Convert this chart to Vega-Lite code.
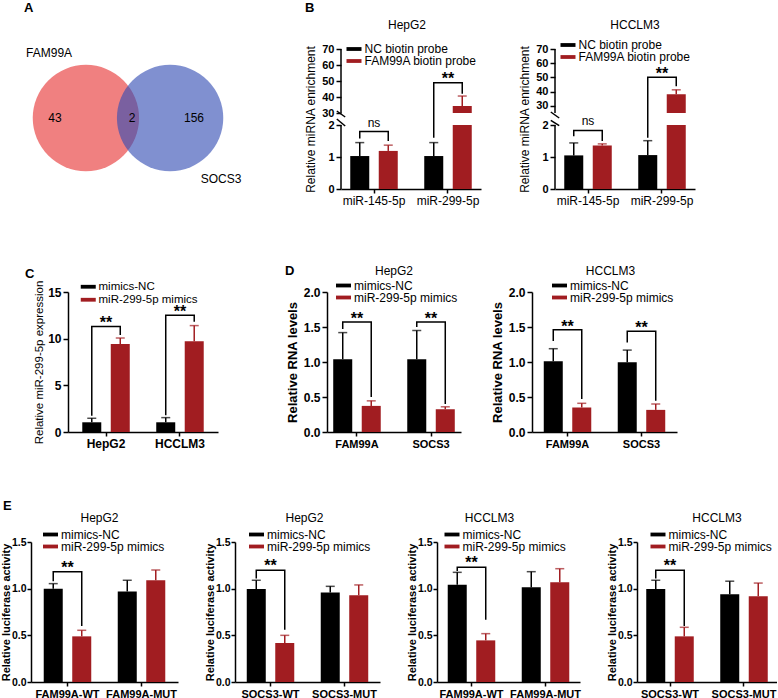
{
"$schema": "https://vega.github.io/schema/vega-lite/v6.json",
"padding": {"top": 2, "left": 0, "right": 0, "bottom": 0},
"background": "white",
"config": {
 "font": "Liberation Sans",
 "view": {"stroke": null},
 "axis": {"domainColor": "#000", "domainWidth": 1.5, "tickColor": "#000", "tickWidth": 1.5, "tickSize": 5, "labelColor": "#000", "titleColor": "#000", "grid": false, "labelFontSize": 12, "titleFontSize": 12, "labelPadding": 2, "titlePadding": 4},
 "axisX": {"labelAngle": 0, "tickSize": 4, "labelFontWeight": "bold"},
 "axisY": {"labelFontWeight": "bold", "titleFontWeight": "bold", "labelOverlap": false},
 "legend": {"orient": "none", "symbolType": "M-1.5,-0.38H1.5V0.38H-1.5Z", "symbolSize": 100, "symbolStrokeWidth": 0, "labelFontSize": 12, "labelOffset": 4.5, "rowPadding": 0, "padding": 0, "labelColor": "#000"},
 "title": {"fontSize": 12, "fontWeight": "normal", "frame": "group", "color": "#000"},
 "text": {"color": "#000"}
},
"spacing": 51,
"resolve": {"scale": {"color": "independent", "xOffset": "independent"}, "legend": {"color": "independent"}},
"vconcat": [
{
 "spacing": 0, "bounds": "flush",
 "resolve": {"scale": {"color": "independent", "xOffset": "independent"}, "legend": {"color": "independent"}},
 "hconcat": [
  {"width": 1, "height": 140, "data": {"values": []}, "mark": "point", "title": {"text": "A", "anchor": "start", "dx": 24, "offset": 34, "fontSize": 13, "fontWeight": "bold"}},
  {"width": 244, "height": 140,
   "layer": [
    {"data": {"values": [{"set": "FAM99A", "cx": 3.48, "cy": 5.07}]}, "mark": {"type": "point", "filled": true, "size": 11310, "opacity": 1, "color": "#F08080"},
     "encoding": {"x": {"field": "cx", "type": "quantitative", "scale": {"domain": [0, 10]}, "axis": null}, "y": {"field": "cy", "type": "quantitative", "scale": {"domain": [0, 10]}, "axis": null}}},
    {"data": {"values": [{"set": "SOCS3", "cx": 6.93, "cy": 5.07}]}, "mark": {"type": "point", "filled": true, "size": 11310, "opacity": 0.62, "color": "#324CB3"},
     "encoding": {"x": {"field": "cx", "type": "quantitative"}, "y": {"field": "cy", "type": "quantitative"}}},
    {"data": {"values": [{"t": "43", "cx": 2.21, "cy": 5.07}, {"t": "2", "cx": 5.37, "cy": 5.07}, {"t": "156", "cx": 7.91, "cy": 5.07}, {"t": "FAM99A", "cx": 1.97, "cy": 9.74}, {"t": "SOCS3", "cx": 9.02, "cy": 0.69}]},
     "mark": {"type": "text", "fontSize": 12},
     "encoding": {"x": {"field": "cx", "type": "quantitative"}, "y": {"field": "cy", "type": "quantitative"}, "text": {"field": "t"}}}
   ]},
  {"width": 96, "height": 164, "data": {"values": []}, "mark": "point", "title": {"text": "B", "anchor": "start", "dx": 60, "offset": 34, "fontSize": 13, "fontWeight": "bold"}},
  {"width": 140, "height": 140,
   "title": {"text": "HepG2", "offset": 11, "dx": -4},
   "data": {"values": [
    {"k": "bar", "g": "miR-145-5p", "s": "NC biotin probe", "y": 1.03, "y2": 0},
    {"k": "bar", "g": "miR-145-5p", "s": "FAM99A biotin probe", "y": 1.19, "y2": 0},
    {"k": "bar", "g": "miR-299-5p", "s": "NC biotin probe", "y": 1.03, "y2": 0},
    {"k": "bar", "g": "miR-299-5p", "s": "FAM99A biotin probe", "y": 2, "y2": 0},
    {"k": "bar", "g": "miR-299-5p", "s": "FAM99A biotin probe", "y": 34.4, "y2": 30},
    {"k": "err", "g": "miR-145-5p", "s": "NC biotin probe", "y": 1.45, "y2": 1.03},
    {"k": "err", "g": "miR-145-5p", "s": "FAM99A biotin probe", "y": 1.37, "y2": 1.19},
    {"k": "err", "g": "miR-299-5p", "s": "NC biotin probe", "y": 1.45, "y2": 1.03},
    {"k": "err", "g": "miR-299-5p", "s": "FAM99A biotin probe", "y": 40.6, "y2": 34.4},
    {"k": "br", "id": 1, "o": 1, "g": "miR-145-5p", "s": "NC biotin probe", "y": 1.58},
    {"k": "br", "id": 1, "o": 2, "g": "miR-145-5p", "s": "NC biotin probe", "y": 1.8},
    {"k": "br", "id": 1, "o": 3, "g": "miR-145-5p", "s": "FAM99A biotin probe", "y": 1.8},
    {"k": "br", "id": 1, "o": 4, "g": "miR-145-5p", "s": "FAM99A biotin probe", "y": 1.5},
    {"k": "br", "id": 2, "o": 1, "g": "miR-299-5p", "s": "NC biotin probe", "y": 1.6},
    {"k": "br", "id": 2, "o": 2, "g": "miR-299-5p", "s": "NC biotin probe", "y": 48.9},
    {"k": "br", "id": 2, "o": 3, "g": "miR-299-5p", "s": "FAM99A biotin probe", "y": 48.9},
    {"k": "br", "id": 2, "o": 4, "g": "miR-299-5p", "s": "FAM99A biotin probe", "y": 42},
    {"k": "txt", "g": "miR-145-5p", "y": 1.94, "t": "ns"},
    {"k": "txt", "g": "miR-299-5p", "y": 48.1, "t": "**"},
    {"k": "ax", "y": 2, "y2": 0},
    {"k": "ax", "y": 70, "y2": 30},
    {"k": "sl", "id": "a", "bx": -0.03, "y": 31.25},
    {"k": "sl", "id": "a", "bx": 0.03, "y": 20.67},
    {"k": "sl", "id": "b", "bx": -0.03, "y": 16},
    {"k": "sl", "id": "b", "bx": 0.03, "y": 1.97}
   ]},
   "resolve": {"scale": {"x": "independent"}},
   "layer": [
    {"encoding": {"x": {"field": "g", "type": "nominal", "sort": ["miR-145-5p", "miR-299-5p"], "scale": {"paddingInner": 0.358, "paddingOuter": 0.125}, "axis": {"title": null, "labelFontWeight": "normal"}}},
     "layer": [
      {"transform": [{"filter": "datum.k==='bar'"}], "mark": {"type": "bar"},
       "encoding": {"xOffset": {"field": "s", "type": "nominal", "sort": ["NC biotin probe", "FAM99A biotin probe"], "scale": {"paddingInner": 0.333, "paddingOuter": 0}},
        "y": {"field": "y", "type": "quantitative", "scale": {"domain": [0, 2, 30, 70], "range": [140, 76, 64, 0], "nice": false, "zero": false}, "axis": {"values": [0, 1, 2, 30, 40, 50, 60, 70], "tickCount": 20, "domain": false, "labelFontSize": 11, "title": "Relative miRNA enrichment", "titleFontWeight": "normal"}},
        "y2": {"field": "y2"},
        "color": {"field": "s", "type": "nominal", "scale": {"domain": ["NC biotin probe", "FAM99A biotin probe"], "range": ["#000000", "#A11D21"]}, "legend": {"legendX": 7, "legendY": -6, "title": null}}}},
      {"transform": [{"filter": "datum.k==='err'"}], "mark": {"type": "rule", "strokeWidth": 1.5},
       "encoding": {"xOffset": {"field": "s", "type": "nominal", "sort": ["NC biotin probe", "FAM99A biotin probe"]}, "y": {"field": "y", "type": "quantitative"}, "y2": {"field": "y2"}, "color": {"field": "s", "type": "nominal", "legend": null}}},
      {"transform": [{"filter": "datum.k==='err'"}], "mark": {"type": "tick", "size": 9, "thickness": 1.5},
       "encoding": {"xOffset": {"field": "s", "type": "nominal", "sort": ["NC biotin probe", "FAM99A biotin probe"]}, "y": {"field": "y", "type": "quantitative"}, "color": {"field": "s", "type": "nominal", "legend": null}}},
      {"transform": [{"filter": "datum.k==='br'"}], "mark": {"type": "line", "color": "#000", "strokeWidth": 1.5},
       "encoding": {"xOffset": {"field": "s", "type": "nominal", "sort": ["NC biotin probe", "FAM99A biotin probe"]}, "y": {"field": "y", "type": "quantitative"}, "detail": {"field": "id"}, "order": {"field": "o"}}},
      {"transform": [{"filter": "datum.k==='txt' && datum.t==='**'"}], "mark": {"type": "text", "fontSize": 16, "fontWeight": "bold", "baseline": "alphabetic"},
       "encoding": {"y": {"field": "y", "type": "quantitative"}, "text": {"field": "t"}}},
      {"transform": [{"filter": "datum.k==='txt' && datum.t==='ns'"}], "mark": {"type": "text", "fontSize": 12, "baseline": "alphabetic"},
       "encoding": {"y": {"field": "y", "type": "quantitative"}, "text": {"field": "t"}}}
     ]},
    {"layer": [
      {"transform": [{"filter": "datum.k==='ax'"}], "mark": {"type": "rule", "color": "#000", "strokeWidth": 1.5},
       "encoding": {"x": {"datum": 0, "type": "quantitative", "scale": {"domain": [0, 1]}, "axis": null}, "y": {"field": "y", "type": "quantitative"}, "y2": {"field": "y2"}}},
      {"transform": [{"filter": "datum.k==='sl'"}], "mark": {"type": "line", "color": "#000", "strokeWidth": 1.5},
       "encoding": {"x": {"field": "bx", "type": "quantitative", "scale": {"domain": [0, 1]}, "axis": null}, "y": {"field": "y", "type": "quantitative"}, "detail": {"field": "id"}}}
    ]}
   ]},
  {"width": 74, "height": 140, "data": {"values": []}, "mark": "point"},
  {"width": 140, "height": 140,
   "title": {"text": "HCCLM3", "offset": 7, "dx": 10},
   "data": {"values": [
    {"k": "bar", "g": "miR-145-5p", "s": "NC biotin probe", "y": 1.05, "y2": 0},
    {"k": "bar", "g": "miR-145-5p", "s": "FAM99A biotin probe", "y": 1.36, "y2": 0},
    {"k": "bar", "g": "miR-299-5p", "s": "NC biotin probe", "y": 1.06, "y2": 0},
    {"k": "bar", "g": "miR-299-5p", "s": "FAM99A biotin probe", "y": 2, "y2": 0},
    {"k": "bar", "g": "miR-299-5p", "s": "FAM99A biotin probe", "y": 38.2, "y2": 25},
    {"k": "err", "g": "miR-145-5p", "s": "NC biotin probe", "y": 1.44, "y2": 1.05},
    {"k": "err", "g": "miR-145-5p", "s": "FAM99A biotin probe", "y": 1.41, "y2": 1.36},
    {"k": "err", "g": "miR-299-5p", "s": "NC biotin probe", "y": 1.51, "y2": 1.06},
    {"k": "err", "g": "miR-299-5p", "s": "FAM99A biotin probe", "y": 41.3, "y2": 38.2},
    {"k": "br", "id": 1, "o": 1, "g": "miR-145-5p", "s": "NC biotin probe", "y": 1.65},
    {"k": "br", "id": 1, "o": 2, "g": "miR-145-5p", "s": "NC biotin probe", "y": 1.83},
    {"k": "br", "id": 1, "o": 3, "g": "miR-145-5p", "s": "FAM99A biotin probe", "y": 1.83},
    {"k": "br", "id": 1, "o": 4, "g": "miR-145-5p", "s": "FAM99A biotin probe", "y": 1.5},
    {"k": "br", "id": 2, "o": 1, "g": "miR-299-5p", "s": "NC biotin probe", "y": 1.6},
    {"k": "br", "id": 2, "o": 2, "g": "miR-299-5p", "s": "NC biotin probe", "y": 50.1},
    {"k": "br", "id": 2, "o": 3, "g": "miR-299-5p", "s": "FAM99A biotin probe", "y": 50.1},
    {"k": "br", "id": 2, "o": 4, "g": "miR-299-5p", "s": "FAM99A biotin probe", "y": 43.8},
    {"k": "txt", "g": "miR-145-5p", "y": 1.99, "t": "ns"},
    {"k": "txt", "g": "miR-299-5p", "y": 48.7, "t": "**"},
    {"k": "ax", "y": 2, "y2": 0},
    {"k": "ax", "y": 70, "y2": 25},
    {"k": "sl", "id": "a", "bx": -0.03, "y": 25.7},
    {"k": "sl", "id": "a", "bx": 0.03, "y": 15.4},
    {"k": "sl", "id": "b", "bx": -0.03, "y": 11},
    {"k": "sl", "id": "b", "bx": 0.03, "y": 1.98}
   ]},
   "resolve": {"scale": {"x": "independent"}},
   "layer": [
    {"encoding": {"x": {"field": "g", "type": "nominal", "sort": ["miR-145-5p", "miR-299-5p"], "scale": {"paddingInner": 0.358, "paddingOuter": 0.125}, "axis": {"title": null, "labelFontWeight": "normal"}}},
     "layer": [
      {"transform": [{"filter": "datum.k==='bar'"}], "mark": {"type": "bar"},
       "encoding": {"xOffset": {"field": "s", "type": "nominal", "sort": ["NC biotin probe", "FAM99A biotin probe"], "scale": {"paddingInner": 0.333, "paddingOuter": 0}},
        "y": {"field": "y", "type": "quantitative", "scale": {"domain": [0, 2, 25, 70], "range": [140, 76, 64, 0], "nice": false, "zero": false}, "axis": {"values": [0, 1, 2, 30, 40, 50, 60, 70], "tickCount": 20, "domain": false, "labelFontSize": 11, "title": "Relative miRNA enrichment", "titleFontWeight": "normal"}},
        "y2": {"field": "y2"},
        "color": {"field": "s", "type": "nominal", "scale": {"domain": ["NC biotin probe", "FAM99A biotin probe"], "range": ["#000000", "#A11D21"]}, "legend": {"legendX": 7, "legendY": -10, "title": null}}}},
      {"transform": [{"filter": "datum.k==='err'"}], "mark": {"type": "rule", "strokeWidth": 1.5},
       "encoding": {"xOffset": {"field": "s", "type": "nominal", "sort": ["NC biotin probe", "FAM99A biotin probe"]}, "y": {"field": "y", "type": "quantitative"}, "y2": {"field": "y2"}, "color": {"field": "s", "type": "nominal", "legend": null}}},
      {"transform": [{"filter": "datum.k==='err'"}], "mark": {"type": "tick", "size": 9, "thickness": 1.5},
       "encoding": {"xOffset": {"field": "s", "type": "nominal", "sort": ["NC biotin probe", "FAM99A biotin probe"]}, "y": {"field": "y", "type": "quantitative"}, "color": {"field": "s", "type": "nominal", "legend": null}}},
      {"transform": [{"filter": "datum.k==='br'"}], "mark": {"type": "line", "color": "#000", "strokeWidth": 1.5},
       "encoding": {"xOffset": {"field": "s", "type": "nominal", "sort": ["NC biotin probe", "FAM99A biotin probe"]}, "y": {"field": "y", "type": "quantitative"}, "detail": {"field": "id"}, "order": {"field": "o"}}},
      {"transform": [{"filter": "datum.k==='txt' && datum.t==='**'"}], "mark": {"type": "text", "fontSize": 16, "fontWeight": "bold", "baseline": "alphabetic"},
       "encoding": {"y": {"field": "y", "type": "quantitative"}, "text": {"field": "t"}}},
      {"transform": [{"filter": "datum.k==='txt' && datum.t==='ns'"}], "mark": {"type": "text", "fontSize": 12, "baseline": "alphabetic"},
       "encoding": {"y": {"field": "y", "type": "quantitative"}, "text": {"field": "t"}}}
     ]},
    {"layer": [
      {"transform": [{"filter": "datum.k==='ax'"}], "mark": {"type": "rule", "color": "#000", "strokeWidth": 1.5},
       "encoding": {"x": {"datum": 0, "type": "quantitative", "scale": {"domain": [0, 1]}, "axis": null}, "y": {"field": "y", "type": "quantitative"}, "y2": {"field": "y2"}}},
      {"transform": [{"filter": "datum.k==='sl'"}], "mark": {"type": "line", "color": "#000", "strokeWidth": 1.5},
       "encoding": {"x": {"field": "bx", "type": "quantitative", "scale": {"domain": [0, 1]}, "axis": null}, "y": {"field": "y", "type": "quantitative"}, "detail": {"field": "id"}}}
    ]}
   ]}
 ]
},
{
 "spacing": 0, "bounds": "flush",
 "resolve": {"scale": {"color": "independent", "xOffset": "independent"}, "legend": {"color": "independent"}},
 "hconcat": [
  {"width": 68, "height": 140, "data": {"values": []}, "mark": "point", "title": {"text": "C", "anchor": "start", "dx": 25, "offset": 11, "fontSize": 13, "fontWeight": "bold"}},
  {"width": 150, "height": 140,
   "data": {"values": [
    {"k": "bar", "g": "HepG2", "s": "mimics-NC", "y": 1.04, "y2": 0},
    {"k": "bar", "g": "HepG2", "s": "miR-299-5p mimics", "y": 9.43, "y2": 0},
    {"k": "bar", "g": "HCCLM3", "s": "mimics-NC", "y": 1.04, "y2": 0},
    {"k": "bar", "g": "HCCLM3", "s": "miR-299-5p mimics", "y": 9.72, "y2": 0},
    {"k": "err", "g": "HepG2", "s": "mimics-NC", "y": 1.47, "y2": 1.04},
    {"k": "err", "g": "HepG2", "s": "miR-299-5p mimics", "y": 10.07, "y2": 9.43},
    {"k": "err", "g": "HCCLM3", "s": "mimics-NC", "y": 1.54, "y2": 1.04},
    {"k": "err", "g": "HCCLM3", "s": "miR-299-5p mimics", "y": 11.4, "y2": 9.72},
    {"k": "br", "id": 1, "o": 1, "g": "HepG2", "s": "mimics-NC", "y": 1.75},
    {"k": "br", "id": 1, "o": 2, "g": "HepG2", "s": "mimics-NC", "y": 11.3},
    {"k": "br", "id": 1, "o": 3, "g": "HepG2", "s": "miR-299-5p mimics", "y": 11.3},
    {"k": "br", "id": 1, "o": 4, "g": "HepG2", "s": "miR-299-5p mimics", "y": 10.4},
    {"k": "br", "id": 2, "o": 1, "g": "HCCLM3", "s": "mimics-NC", "y": 1.8},
    {"k": "br", "id": 2, "o": 2, "g": "HCCLM3", "s": "mimics-NC", "y": 12.5},
    {"k": "br", "id": 2, "o": 3, "g": "HCCLM3", "s": "miR-299-5p mimics", "y": 12.5},
    {"k": "br", "id": 2, "o": 4, "g": "HCCLM3", "s": "miR-299-5p mimics", "y": 11.8},
    {"k": "txt", "g": "HepG2", "y": 11.15, "t": "**"},
    {"k": "txt", "g": "HCCLM3", "y": 12.3, "t": "**"}
   ]},
   "encoding": {"x": {"field": "g", "type": "nominal", "sort": ["HepG2", "HCCLM3"], "scale": {"paddingInner": 0.358, "paddingOuter": 0.193}, "axis": {"title": null}}},
   "layer": [
    {"transform": [{"filter": "datum.k==='bar'"}], "mark": {"type": "bar"},
     "encoding": {"xOffset": {"field": "s", "type": "nominal", "sort": ["mimics-NC", "miR-299-5p mimics"], "scale": {"paddingInner": 0.333, "paddingOuter": 0}},
      "y": {"field": "y", "type": "quantitative", "scale": {"domain": [0, 15], "nice": false}, "axis": {"values": [0, 5, 10, 15], "tickCount": 20, "title": "Relative miR-299-5p expression", "titleFontWeight": "normal", "titleFontSize": 11.5, "titlePadding": 3}},
      "y2": {"field": "y2"},
      "color": {"field": "s", "type": "nominal", "scale": {"domain": ["mimics-NC", "miR-299-5p mimics"], "range": ["#000000", "#A11D21"]}, "legend": {"legendX": 14.5, "legendY": -11, "title": null, "labelFontSize": 11.5}}}},
    {"transform": [{"filter": "datum.k==='err'"}], "mark": {"type": "rule", "strokeWidth": 1.5},
     "encoding": {"xOffset": {"field": "s", "type": "nominal", "sort": ["mimics-NC", "miR-299-5p mimics"]}, "y": {"field": "y", "type": "quantitative"}, "y2": {"field": "y2"}, "color": {"field": "s", "type": "nominal", "legend": null}}},
    {"transform": [{"filter": "datum.k==='err'"}], "mark": {"type": "tick", "size": 9, "thickness": 1.5},
     "encoding": {"xOffset": {"field": "s", "type": "nominal", "sort": ["mimics-NC", "miR-299-5p mimics"]}, "y": {"field": "y", "type": "quantitative"}, "color": {"field": "s", "type": "nominal", "legend": null}}},
    {"transform": [{"filter": "datum.k==='br'"}], "mark": {"type": "line", "color": "#000", "strokeWidth": 1.5},
     "encoding": {"xOffset": {"field": "s", "type": "nominal", "sort": ["mimics-NC", "miR-299-5p mimics"]}, "y": {"field": "y", "type": "quantitative"}, "detail": {"field": "id"}, "order": {"field": "o"}}},
    {"transform": [{"filter": "datum.k==='txt'"}], "mark": {"type": "text", "fontSize": 16, "fontWeight": "bold", "baseline": "alphabetic"},
     "encoding": {"y": {"field": "y", "type": "quantitative"}, "text": {"field": "t"}}}
   ]},
  {"width": 108.7, "height": 140, "data": {"values": []}, "mark": "point", "title": {"text": "D", "anchor": "start", "dx": 67, "offset": 14, "fontSize": 13, "fontWeight": "bold"}},
  {"width": 134, "height": 140,
   "title": {"text": "HepG2", "offset": 2},
   "data": {"values": [
    {"k": "bar", "g": "FAM99A", "s": "mimics-NC", "y": 1.04, "y2": 0},
    {"k": "bar", "g": "FAM99A", "s": "miR-299-5p mimics", "y": 0.373, "y2": 0},
    {"k": "bar", "g": "SOCS3", "s": "mimics-NC", "y": 1.04, "y2": 0},
    {"k": "bar", "g": "SOCS3", "s": "miR-299-5p mimics", "y": 0.325, "y2": 0},
    {"k": "err", "g": "FAM99A", "s": "mimics-NC", "y": 1.42, "y2": 1.04},
    {"k": "err", "g": "FAM99A", "s": "miR-299-5p mimics", "y": 0.445, "y2": 0.373},
    {"k": "err", "g": "SOCS3", "s": "mimics-NC", "y": 1.45, "y2": 1.04},
    {"k": "err", "g": "SOCS3", "s": "miR-299-5p mimics", "y": 0.36, "y2": 0.325},
    {"k": "br", "id": 1, "o": 1, "g": "FAM99A", "s": "mimics-NC", "y": 1.47},
    {"k": "br", "id": 1, "o": 2, "g": "FAM99A", "s": "mimics-NC", "y": 1.57},
    {"k": "br", "id": 1, "o": 3, "g": "FAM99A", "s": "miR-299-5p mimics", "y": 1.57},
    {"k": "br", "id": 1, "o": 4, "g": "FAM99A", "s": "miR-299-5p mimics", "y": 0.5},
    {"k": "br", "id": 2, "o": 1, "g": "SOCS3", "s": "mimics-NC", "y": 1.5},
    {"k": "br", "id": 2, "o": 2, "g": "SOCS3", "s": "mimics-NC", "y": 1.57},
    {"k": "br", "id": 2, "o": 3, "g": "SOCS3", "s": "miR-299-5p mimics", "y": 1.57},
    {"k": "br", "id": 2, "o": 4, "g": "SOCS3", "s": "miR-299-5p mimics", "y": 0.4},
    {"k": "txt", "g": "FAM99A", "y": 1.54, "t": "**"},
    {"k": "txt", "g": "SOCS3", "y": 1.54, "t": "**"}
   ]},
   "encoding": {"x": {"field": "g", "type": "nominal", "sort": ["FAM99A", "SOCS3"], "scale": {"paddingInner": 0.358, "paddingOuter": 0.084}, "axis": {"title": null, "labelFontSize": 11}}},
   "layer": [
    {"transform": [{"filter": "datum.k==='bar'"}], "mark": {"type": "bar"},
     "encoding": {"xOffset": {"field": "s", "type": "nominal", "sort": ["mimics-NC", "miR-299-5p mimics"], "scale": {"paddingInner": 0.333, "paddingOuter": 0}},
      "y": {"field": "y", "type": "quantitative", "scale": {"domain": [0, 2], "nice": false}, "axis": {"values": [0, 0.5, 1, 1.5, 2], "tickCount": 20, "format": ".1f", "title": "Relative RNA levels", "titleFontSize": 13}},
      "y2": {"field": "y2"},
      "color": {"field": "s", "type": "nominal", "scale": {"domain": ["mimics-NC", "miR-299-5p mimics"], "range": ["#000000", "#A11D21"]}, "legend": {"legendX": 10.5, "legendY": -12.5, "title": null}}}},
    {"transform": [{"filter": "datum.k==='err'"}], "mark": {"type": "rule", "strokeWidth": 1.5},
     "encoding": {"xOffset": {"field": "s", "type": "nominal", "sort": ["mimics-NC", "miR-299-5p mimics"]}, "y": {"field": "y", "type": "quantitative"}, "y2": {"field": "y2"}, "color": {"field": "s", "type": "nominal", "legend": null}}},
    {"transform": [{"filter": "datum.k==='err'"}], "mark": {"type": "tick", "size": 9, "thickness": 1.5},
     "encoding": {"xOffset": {"field": "s", "type": "nominal", "sort": ["mimics-NC", "miR-299-5p mimics"]}, "y": {"field": "y", "type": "quantitative"}, "color": {"field": "s", "type": "nominal", "legend": null}}},
    {"transform": [{"filter": "datum.k==='br'"}], "mark": {"type": "line", "color": "#000", "strokeWidth": 1.5},
     "encoding": {"xOffset": {"field": "s", "type": "nominal", "sort": ["mimics-NC", "miR-299-5p mimics"]}, "y": {"field": "y", "type": "quantitative"}, "detail": {"field": "id"}, "order": {"field": "o"}}},
    {"transform": [{"filter": "datum.k==='txt'"}], "mark": {"type": "text", "fontSize": 16, "fontWeight": "bold", "baseline": "alphabetic"},
     "encoding": {"y": {"field": "y", "type": "quantitative"}, "text": {"field": "t"}}}
   ]},
  {"width": 71, "height": 140, "data": {"values": []}, "mark": "point"},
  {"width": 145, "height": 140,
   "title": {"text": "HCCLM3", "offset": 2, "dx": 6},
   "data": {"values": [
    {"k": "bar", "g": "FAM99A", "s": "mimics-NC", "y": 1.01, "y2": 0},
    {"k": "bar", "g": "FAM99A", "s": "miR-299-5p mimics", "y": 0.35, "y2": 0},
    {"k": "bar", "g": "SOCS3", "s": "mimics-NC", "y": 0.995, "y2": 0},
    {"k": "bar", "g": "SOCS3", "s": "miR-299-5p mimics", "y": 0.316, "y2": 0},
    {"k": "err", "g": "FAM99A", "s": "mimics-NC", "y": 1.19, "y2": 1.01},
    {"k": "err", "g": "FAM99A", "s": "miR-299-5p mimics", "y": 0.41, "y2": 0.35},
    {"k": "err", "g": "SOCS3", "s": "mimics-NC", "y": 1.17, "y2": 0.995},
    {"k": "err", "g": "SOCS3", "s": "miR-299-5p mimics", "y": 0.4, "y2": 0.316},
    {"k": "br", "id": 1, "o": 1, "g": "FAM99A", "s": "mimics-NC", "y": 1.3},
    {"k": "br", "id": 1, "o": 2, "g": "FAM99A", "s": "mimics-NC", "y": 1.46},
    {"k": "br", "id": 1, "o": 3, "g": "FAM99A", "s": "miR-299-5p mimics", "y": 1.46},
    {"k": "br", "id": 1, "o": 4, "g": "FAM99A", "s": "miR-299-5p mimics", "y": 0.47},
    {"k": "br", "id": 2, "o": 1, "g": "SOCS3", "s": "mimics-NC", "y": 1.28},
    {"k": "br", "id": 2, "o": 2, "g": "SOCS3", "s": "mimics-NC", "y": 1.44},
    {"k": "br", "id": 2, "o": 3, "g": "SOCS3", "s": "miR-299-5p mimics", "y": 1.44},
    {"k": "br", "id": 2, "o": 4, "g": "SOCS3", "s": "miR-299-5p mimics", "y": 0.445},
    {"k": "txt", "g": "FAM99A", "y": 1.43, "t": "**"},
    {"k": "txt", "g": "SOCS3", "y": 1.41, "t": "**"}
   ]},
   "encoding": {"x": {"field": "g", "type": "nominal", "sort": ["FAM99A", "SOCS3"], "scale": {"paddingInner": 0.358, "paddingOuter": 0.159}, "axis": {"title": null, "labelFontSize": 11}}},
   "layer": [
    {"transform": [{"filter": "datum.k==='bar'"}], "mark": {"type": "bar"},
     "encoding": {"xOffset": {"field": "s", "type": "nominal", "sort": ["mimics-NC", "miR-299-5p mimics"], "scale": {"paddingInner": 0.333, "paddingOuter": 0}},
      "y": {"field": "y", "type": "quantitative", "scale": {"domain": [0, 2], "nice": false}, "axis": {"values": [0, 0.5, 1, 1.5, 2], "tickCount": 20, "format": ".1f", "title": "Relative RNA levels", "titleFontSize": 13}},
      "y2": {"field": "y2"},
      "color": {"field": "s", "type": "nominal", "scale": {"domain": ["mimics-NC", "miR-299-5p mimics"], "range": ["#000000", "#A11D21"]}, "legend": {"legendX": 21.5, "legendY": -12.5, "title": null}}}},
    {"transform": [{"filter": "datum.k==='err'"}], "mark": {"type": "rule", "strokeWidth": 1.5},
     "encoding": {"xOffset": {"field": "s", "type": "nominal", "sort": ["mimics-NC", "miR-299-5p mimics"]}, "y": {"field": "y", "type": "quantitative"}, "y2": {"field": "y2"}, "color": {"field": "s", "type": "nominal", "legend": null}}},
    {"transform": [{"filter": "datum.k==='err'"}], "mark": {"type": "tick", "size": 9, "thickness": 1.5},
     "encoding": {"xOffset": {"field": "s", "type": "nominal", "sort": ["mimics-NC", "miR-299-5p mimics"]}, "y": {"field": "y", "type": "quantitative"}, "color": {"field": "s", "type": "nominal", "legend": null}}},
    {"transform": [{"filter": "datum.k==='br'"}], "mark": {"type": "line", "color": "#000", "strokeWidth": 1.5},
     "encoding": {"xOffset": {"field": "s", "type": "nominal", "sort": ["mimics-NC", "miR-299-5p mimics"]}, "y": {"field": "y", "type": "quantitative"}, "detail": {"field": "id"}, "order": {"field": "o"}}},
    {"transform": [{"filter": "datum.k==='txt'"}], "mark": {"type": "text", "fontSize": 16, "fontWeight": "bold", "baseline": "alphabetic"},
     "encoding": {"y": {"field": "y", "type": "quantitative"}, "text": {"field": "t"}}}
   ]}
 ]
},
{
 "spacing": 0, "bounds": "flush",
 "resolve": {"scale": {"color": "independent", "xOffset": "independent"}, "legend": {"color": "independent"}},
 "hconcat": [
  {"width": 31, "height": 140, "data": {"values": []}, "mark": "point", "title": {"text": "E", "anchor": "start", "dx": 3, "offset": 29, "fontSize": 13, "fontWeight": "bold"}},
  {"width": 147, "height": 140,
   "title": {"text": "HepG2", "offset": 4, "dx": -5},
   "data": {"values": [
    {"k": "bar", "g": "FAM99A-WT", "s": "mimics-NC", "y": 1.0, "y2": 0},
    {"k": "bar", "g": "FAM99A-WT", "s": "miR-299-5p mimics", "y": 0.489, "y2": 0},
    {"k": "bar", "g": "FAM99A-MUT", "s": "mimics-NC", "y": 0.97, "y2": 0},
    {"k": "bar", "g": "FAM99A-MUT", "s": "miR-299-5p mimics", "y": 1.09, "y2": 0},
    {"k": "err", "g": "FAM99A-WT", "s": "mimics-NC", "y": 1.054, "y2": 1.0},
    {"k": "err", "g": "FAM99A-WT", "s": "miR-299-5p mimics", "y": 0.554, "y2": 0.489},
    {"k": "err", "g": "FAM99A-MUT", "s": "mimics-NC", "y": 1.09, "y2": 0.97},
    {"k": "err", "g": "FAM99A-MUT", "s": "miR-299-5p mimics", "y": 1.2, "y2": 1.09},
    {"k": "br", "id": 1, "o": 1, "g": "FAM99A-WT", "s": "mimics-NC", "y": 1.08},
    {"k": "br", "id": 1, "o": 2, "g": "FAM99A-WT", "s": "mimics-NC", "y": 1.18},
    {"k": "br", "id": 1, "o": 3, "g": "FAM99A-WT", "s": "miR-299-5p mimics", "y": 1.18},
    {"k": "br", "id": 1, "o": 4, "g": "FAM99A-WT", "s": "miR-299-5p mimics", "y": 0.6},
    {"k": "txt", "g": "FAM99A-WT", "y": 1.17, "t": "**"}
   ]},
   "encoding": {"x": {"field": "g", "type": "nominal", "sort": ["FAM99A-WT", "FAM99A-MUT"], "scale": {"paddingInner": 0.358, "paddingOuter": 0.172}, "axis": {"title": null, "labelFontSize": 11}}},
   "layer": [
    {"transform": [{"filter": "datum.k==='bar'"}], "mark": {"type": "bar"},
     "encoding": {"xOffset": {"field": "s", "type": "nominal", "sort": ["mimics-NC", "miR-299-5p mimics"], "scale": {"paddingInner": 0.333, "paddingOuter": 0}},
      "y": {"field": "y", "type": "quantitative", "scale": {"domain": [0, 1.5], "nice": false}, "axis": {"values": [0, 0.5, 1, 1.5], "tickCount": 20, "format": ".1f", "title": "Relative luciferase activity", "labelFontSize": 10.5, "titleFontSize": 11, "titlePadding": 0, "labelPadding": 1, "tickSize": 4}},
      "y2": {"field": "y2"},
      "color": {"field": "s", "type": "nominal", "scale": {"domain": ["mimics-NC", "miR-299-5p mimics"], "range": ["#000000", "#A11D21"]}, "legend": {"legendX": 13.5, "legendY": -13.5, "title": null}}}},
    {"transform": [{"filter": "datum.k==='err'"}], "mark": {"type": "rule", "strokeWidth": 1.5},
     "encoding": {"xOffset": {"field": "s", "type": "nominal", "sort": ["mimics-NC", "miR-299-5p mimics"]}, "y": {"field": "y", "type": "quantitative"}, "y2": {"field": "y2"}, "color": {"field": "s", "type": "nominal", "legend": null}}},
    {"transform": [{"filter": "datum.k==='err'"}], "mark": {"type": "tick", "size": 9, "thickness": 1.5},
     "encoding": {"xOffset": {"field": "s", "type": "nominal", "sort": ["mimics-NC", "miR-299-5p mimics"]}, "y": {"field": "y", "type": "quantitative"}, "color": {"field": "s", "type": "nominal", "legend": null}}},
    {"transform": [{"filter": "datum.k==='br'"}], "mark": {"type": "line", "color": "#000", "strokeWidth": 1.5},
     "encoding": {"xOffset": {"field": "s", "type": "nominal", "sort": ["mimics-NC", "miR-299-5p mimics"]}, "y": {"field": "y", "type": "quantitative"}, "detail": {"field": "id"}, "order": {"field": "o"}}},
    {"transform": [{"filter": "datum.k==='txt'"}], "mark": {"type": "text", "fontSize": 16, "fontWeight": "bold", "baseline": "alphabetic"},
     "encoding": {"y": {"field": "y", "type": "quantitative"}, "text": {"field": "t"}}}
   ]},
  {"width": 57, "height": 140, "data": {"values": []}, "mark": "point"},
  {"width": 145, "height": 140,
   "title": {"text": "HepG2", "offset": 4, "dx": -3},
   "data": {"values": [
    {"k": "bar", "g": "SOCS3-WT", "s": "mimics-NC", "y": 0.996, "y2": 0},
    {"k": "bar", "g": "SOCS3-WT", "s": "miR-299-5p mimics", "y": 0.418, "y2": 0},
    {"k": "bar", "g": "SOCS3-MUT", "s": "mimics-NC", "y": 0.96, "y2": 0},
    {"k": "bar", "g": "SOCS3-MUT", "s": "miR-299-5p mimics", "y": 0.93, "y2": 0},
    {"k": "err", "g": "SOCS3-WT", "s": "mimics-NC", "y": 1.09, "y2": 0.996},
    {"k": "err", "g": "SOCS3-WT", "s": "miR-299-5p mimics", "y": 0.5, "y2": 0.418},
    {"k": "err", "g": "SOCS3-MUT", "s": "mimics-NC", "y": 1.025, "y2": 0.96},
    {"k": "err", "g": "SOCS3-MUT", "s": "miR-299-5p mimics", "y": 1.04, "y2": 0.93},
    {"k": "br", "id": 1, "o": 1, "g": "SOCS3-WT", "s": "mimics-NC", "y": 1.11},
    {"k": "br", "id": 1, "o": 2, "g": "SOCS3-WT", "s": "mimics-NC", "y": 1.196},
    {"k": "br", "id": 1, "o": 3, "g": "SOCS3-WT", "s": "miR-299-5p mimics", "y": 1.196},
    {"k": "br", "id": 1, "o": 4, "g": "SOCS3-WT", "s": "miR-299-5p mimics", "y": 0.56},
    {"k": "txt", "g": "SOCS3-WT", "y": 1.184, "t": "**"}
   ]},
   "encoding": {"x": {"field": "g", "type": "nominal", "sort": ["SOCS3-WT", "SOCS3-MUT"], "scale": {"paddingInner": 0.358, "paddingOuter": 0.159}, "axis": {"title": null, "labelFontSize": 11}}},
   "layer": [
    {"transform": [{"filter": "datum.k==='bar'"}], "mark": {"type": "bar"},
     "encoding": {"xOffset": {"field": "s", "type": "nominal", "sort": ["mimics-NC", "miR-299-5p mimics"], "scale": {"paddingInner": 0.333, "paddingOuter": 0}},
      "y": {"field": "y", "type": "quantitative", "scale": {"domain": [0, 1.5], "nice": false}, "axis": {"values": [0, 0.5, 1, 1.5], "tickCount": 20, "format": ".1f", "title": "Relative luciferase activity", "labelFontSize": 10.5, "titleFontSize": 11, "titlePadding": 0, "labelPadding": 1, "tickSize": 4}},
      "y2": {"field": "y2"},
      "color": {"field": "s", "type": "nominal", "scale": {"domain": ["mimics-NC", "miR-299-5p mimics"], "range": ["#000000", "#A11D21"]}, "legend": {"legendX": 15.5, "legendY": -13.5, "title": null}}}},
    {"transform": [{"filter": "datum.k==='err'"}], "mark": {"type": "rule", "strokeWidth": 1.5},
     "encoding": {"xOffset": {"field": "s", "type": "nominal", "sort": ["mimics-NC", "miR-299-5p mimics"]}, "y": {"field": "y", "type": "quantitative"}, "y2": {"field": "y2"}, "color": {"field": "s", "type": "nominal", "legend": null}}},
    {"transform": [{"filter": "datum.k==='err'"}], "mark": {"type": "tick", "size": 9, "thickness": 1.5},
     "encoding": {"xOffset": {"field": "s", "type": "nominal", "sort": ["mimics-NC", "miR-299-5p mimics"]}, "y": {"field": "y", "type": "quantitative"}, "color": {"field": "s", "type": "nominal", "legend": null}}},
    {"transform": [{"filter": "datum.k==='br'"}], "mark": {"type": "line", "color": "#000", "strokeWidth": 1.5},
     "encoding": {"xOffset": {"field": "s", "type": "nominal", "sort": ["mimics-NC", "miR-299-5p mimics"]}, "y": {"field": "y", "type": "quantitative"}, "detail": {"field": "id"}, "order": {"field": "o"}}},
    {"transform": [{"filter": "datum.k==='txt'"}], "mark": {"type": "text", "fontSize": 16, "fontWeight": "bold", "baseline": "alphabetic"},
     "encoding": {"y": {"field": "y", "type": "quantitative"}, "text": {"field": "t"}}}
   ]},
  {"width": 57, "height": 140, "data": {"values": []}, "mark": "point"},
  {"width": 143, "height": 140,
   "title": {"text": "HCCLM3", "offset": 4, "dx": -19},
   "data": {"values": [
    {"k": "bar", "g": "FAM99A-WT", "s": "mimics-NC", "y": 1.043, "y2": 0},
    {"k": "bar", "g": "FAM99A-WT", "s": "miR-299-5p mimics", "y": 0.446, "y2": 0},
    {"k": "bar", "g": "FAM99A-MUT", "s": "mimics-NC", "y": 1.014, "y2": 0},
    {"k": "bar", "g": "FAM99A-MUT", "s": "miR-299-5p mimics", "y": 1.068, "y2": 0},
    {"k": "err", "g": "FAM99A-WT", "s": "mimics-NC", "y": 1.175, "y2": 1.043},
    {"k": "err", "g": "FAM99A-WT", "s": "miR-299-5p mimics", "y": 0.518, "y2": 0.446},
    {"k": "err", "g": "FAM99A-MUT", "s": "mimics-NC", "y": 1.182, "y2": 1.014},
    {"k": "err", "g": "FAM99A-MUT", "s": "miR-299-5p mimics", "y": 1.214, "y2": 1.068},
    {"k": "br", "id": 1, "o": 1, "g": "FAM99A-WT", "s": "mimics-NC", "y": 1.19},
    {"k": "br", "id": 1, "o": 2, "g": "FAM99A-WT", "s": "mimics-NC", "y": 1.229},
    {"k": "br", "id": 1, "o": 3, "g": "FAM99A-WT", "s": "miR-299-5p mimics", "y": 1.229},
    {"k": "br", "id": 1, "o": 4, "g": "FAM99A-WT", "s": "miR-299-5p mimics", "y": 0.668},
    {"k": "txt", "g": "FAM99A-WT", "y": 1.22, "t": "**"}
   ]},
   "encoding": {"x": {"field": "g", "type": "nominal", "sort": ["FAM99A-WT", "FAM99A-MUT"], "scale": {"paddingInner": 0.358, "paddingOuter": 0.145}, "axis": {"title": null, "labelFontSize": 11}}},
   "layer": [
    {"transform": [{"filter": "datum.k==='bar'"}], "mark": {"type": "bar"},
     "encoding": {"xOffset": {"field": "s", "type": "nominal", "sort": ["mimics-NC", "miR-299-5p mimics"], "scale": {"paddingInner": 0.333, "paddingOuter": 0}},
      "y": {"field": "y", "type": "quantitative", "scale": {"domain": [0, 1.5], "nice": false}, "axis": {"values": [0, 0.5, 1, 1.5], "tickCount": 20, "format": ".1f", "title": "Relative luciferase activity", "labelFontSize": 10.5, "titleFontSize": 11, "titlePadding": 0, "labelPadding": 1, "tickSize": 4}},
      "y2": {"field": "y2"},
      "color": {"field": "s", "type": "nominal", "scale": {"domain": ["mimics-NC", "miR-299-5p mimics"], "range": ["#000000", "#A11D21"]}, "legend": {"legendX": 9, "legendY": -13.5, "title": null}}}},
    {"transform": [{"filter": "datum.k==='err'"}], "mark": {"type": "rule", "strokeWidth": 1.5},
     "encoding": {"xOffset": {"field": "s", "type": "nominal", "sort": ["mimics-NC", "miR-299-5p mimics"]}, "y": {"field": "y", "type": "quantitative"}, "y2": {"field": "y2"}, "color": {"field": "s", "type": "nominal", "legend": null}}},
    {"transform": [{"filter": "datum.k==='err'"}], "mark": {"type": "tick", "size": 9, "thickness": 1.5},
     "encoding": {"xOffset": {"field": "s", "type": "nominal", "sort": ["mimics-NC", "miR-299-5p mimics"]}, "y": {"field": "y", "type": "quantitative"}, "color": {"field": "s", "type": "nominal", "legend": null}}},
    {"transform": [{"filter": "datum.k==='br'"}], "mark": {"type": "line", "color": "#000", "strokeWidth": 1.5},
     "encoding": {"xOffset": {"field": "s", "type": "nominal", "sort": ["mimics-NC", "miR-299-5p mimics"]}, "y": {"field": "y", "type": "quantitative"}, "detail": {"field": "id"}, "order": {"field": "o"}}},
    {"transform": [{"filter": "datum.k==='txt'"}], "mark": {"type": "text", "fontSize": 16, "fontWeight": "bold", "baseline": "alphabetic"},
     "encoding": {"y": {"field": "y", "type": "quantitative"}, "text": {"field": "t"}}}
   ]},
  {"width": 57, "height": 140, "data": {"values": []}, "mark": "point"},
  {"width": 140, "height": 140,
   "title": {"text": "HCCLM3", "offset": 4, "dx": 10},
   "data": {"values": [
    {"k": "bar", "g": "SOCS3-WT", "s": "mimics-NC", "y": 0.996, "y2": 0},
    {"k": "bar", "g": "SOCS3-WT", "s": "miR-299-5p mimics", "y": 0.489, "y2": 0},
    {"k": "bar", "g": "SOCS3-MUT", "s": "mimics-NC", "y": 0.94, "y2": 0},
    {"k": "bar", "g": "SOCS3-MUT", "s": "miR-299-5p mimics", "y": 0.918, "y2": 0},
    {"k": "err", "g": "SOCS3-WT", "s": "mimics-NC", "y": 1.09, "y2": 0.996},
    {"k": "err", "g": "SOCS3-WT", "s": "miR-299-5p mimics", "y": 0.586, "y2": 0.489},
    {"k": "err", "g": "SOCS3-MUT", "s": "mimics-NC", "y": 1.08, "y2": 0.94},
    {"k": "err", "g": "SOCS3-MUT", "s": "miR-299-5p mimics", "y": 1.06, "y2": 0.918},
    {"k": "br", "id": 1, "o": 1, "g": "SOCS3-WT", "s": "mimics-NC", "y": 1.11},
    {"k": "br", "id": 1, "o": 2, "g": "SOCS3-WT", "s": "mimics-NC", "y": 1.196},
    {"k": "br", "id": 1, "o": 3, "g": "SOCS3-WT", "s": "miR-299-5p mimics", "y": 1.196},
    {"k": "br", "id": 1, "o": 4, "g": "SOCS3-WT", "s": "miR-299-5p mimics", "y": 0.6},
    {"k": "txt", "g": "SOCS3-WT", "y": 1.184, "t": "**"}
   ]},
   "encoding": {"x": {"field": "g", "type": "nominal", "sort": ["SOCS3-WT", "SOCS3-MUT"], "scale": {"paddingInner": 0.358, "paddingOuter": 0.125}, "axis": {"title": null, "labelFontSize": 11}}},
   "layer": [
    {"transform": [{"filter": "datum.k==='bar'"}], "mark": {"type": "bar"},
     "encoding": {"xOffset": {"field": "s", "type": "nominal", "sort": ["mimics-NC", "miR-299-5p mimics"], "scale": {"paddingInner": 0.333, "paddingOuter": 0}},
      "y": {"field": "y", "type": "quantitative", "scale": {"domain": [0, 1.5], "nice": false}, "axis": {"values": [0, 0.5, 1, 1.5], "tickCount": 20, "format": ".1f", "title": "Relative luciferase activity", "labelFontSize": 10.5, "titleFontSize": 11, "titlePadding": 0, "labelPadding": 1, "tickSize": 4}},
      "y2": {"field": "y2"},
      "color": {"field": "s", "type": "nominal", "scale": {"domain": ["mimics-NC", "miR-299-5p mimics"], "range": ["#000000", "#A11D21"]}, "legend": {"legendX": 15, "legendY": -13.5, "title": null}}}},
    {"transform": [{"filter": "datum.k==='err'"}], "mark": {"type": "rule", "strokeWidth": 1.5},
     "encoding": {"xOffset": {"field": "s", "type": "nominal", "sort": ["mimics-NC", "miR-299-5p mimics"]}, "y": {"field": "y", "type": "quantitative"}, "y2": {"field": "y2"}, "color": {"field": "s", "type": "nominal", "legend": null}}},
    {"transform": [{"filter": "datum.k==='err'"}], "mark": {"type": "tick", "size": 9, "thickness": 1.5},
     "encoding": {"xOffset": {"field": "s", "type": "nominal", "sort": ["mimics-NC", "miR-299-5p mimics"]}, "y": {"field": "y", "type": "quantitative"}, "color": {"field": "s", "type": "nominal", "legend": null}}},
    {"transform": [{"filter": "datum.k==='br'"}], "mark": {"type": "line", "color": "#000", "strokeWidth": 1.5},
     "encoding": {"xOffset": {"field": "s", "type": "nominal", "sort": ["mimics-NC", "miR-299-5p mimics"]}, "y": {"field": "y", "type": "quantitative"}, "detail": {"field": "id"}, "order": {"field": "o"}}},
    {"transform": [{"filter": "datum.k==='txt'"}], "mark": {"type": "text", "fontSize": 16, "fontWeight": "bold", "baseline": "alphabetic"},
     "encoding": {"y": {"field": "y", "type": "quantitative"}, "text": {"field": "t"}}}
   ]}
 ]
}
]
}
